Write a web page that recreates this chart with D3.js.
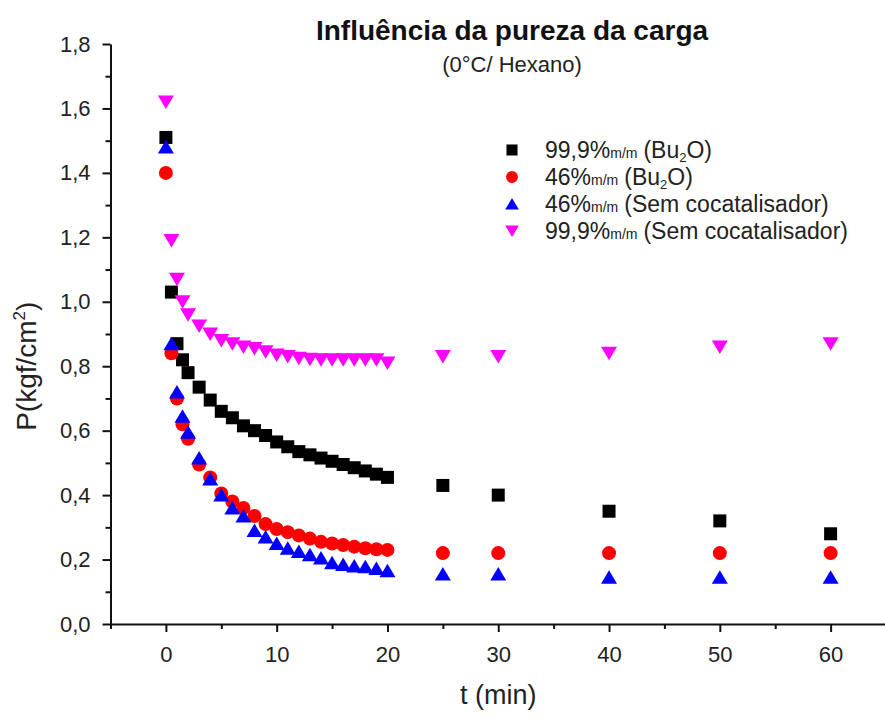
<!DOCTYPE html>
<html>
<head>
<meta charset="utf-8">
<script src="https://cdn.jsdelivr.net/npm/d3@7/dist/d3.min.js"></script>
<style>
  html, body { margin: 0; padding: 0; background: #fff; }
  svg { display: block; font-family: "Liberation Sans", Arial, sans-serif; }
</style>
</head>
<body>
<svg id="chart" width="885" height="718"></svg>
<script>
// ---- data ----
const times = [0, 0.5, 1, 1.5, 2, 3, 4, 5, 6, 7, 8, 9, 10, 11, 12, 13, 14, 15, 16, 17, 18, 19, 20, 25, 30, 40, 50, 60];
const pure_Bu2O   = [1.51, 1.03, 0.87, 0.82, 0.78, 0.735, 0.695, 0.66, 0.64, 0.615, 0.60, 0.585, 0.565, 0.55, 0.535, 0.525, 0.515, 0.505, 0.495, 0.485, 0.475, 0.465, 0.455, 0.43, 0.40, 0.35, 0.32, 0.28];
const p46_Bu2O    = [1.40, 0.84, 0.70, 0.62, 0.575, 0.495, 0.455, 0.405, 0.38, 0.36, 0.335, 0.31, 0.295, 0.285, 0.275, 0.265, 0.255, 0.25, 0.245, 0.24, 0.235, 0.232, 0.23, 0.22, 0.22, 0.22, 0.22, 0.22];
const p46_semCoc  = [1.48, 0.87, 0.72, 0.645, 0.595, 0.515, 0.45, 0.40, 0.36, 0.335, 0.29, 0.27, 0.25, 0.235, 0.225, 0.215, 0.205, 0.19, 0.185, 0.18, 0.178, 0.172, 0.165, 0.155, 0.155, 0.145, 0.145, 0.145];
const pure_semCoc = [1.62, 1.19, 1.07, 1.00, 0.96, 0.925, 0.90, 0.88, 0.87, 0.86, 0.855, 0.845, 0.835, 0.83, 0.825, 0.822, 0.82, 0.82, 0.82, 0.82, 0.82, 0.82, 0.81, 0.83, 0.83, 0.84, 0.86, 0.87];

const seriesNames = ["99,9%", "46%", "46%", "99,9%"];
const seriesSuffix = ["(Bu2O)", "(Bu2O)", "(Sem cocatalisador)", "(Sem cocatalisador)"];
const seriesValues = [pure_Bu2O, p46_Bu2O, p46_semCoc, pure_semCoc];
const seriesShapes = ["square", "circle", "triUp", "triDown"];
const seriesColors = ["#000000", "#ff0000", "#0000ff", "#ff00ff"];

const xMajor = [0, 10, 20, 30, 40, 50, 60];
const xMinor = [-5, 5, 15, 25, 35, 45, 55, 65];
const yMajor = [0, 0.2, 0.4, 0.6, 0.8, 1.0, 1.2, 1.4, 1.6, 1.8];
const yMinor = [0.1, 0.3, 0.5, 0.7, 0.9, 1.1, 1.3, 1.5, 1.7];

const title = "Influência da pureza da carga";
const subtitle = "(0°C/ Hexano)";
const xTitle = "t (min)";

// ---- layout ----
const svg = d3.select("#chart");
const x = d3.scaleLinear().domain([-5, 65]).range([110.5, 886]);
const y = d3.scaleLinear().domain([0, 1.8]).range([624, 44]);
const fmt = d => d3.format(".1f")(d).replace(".", ",");

// axes
const yAxis = svg.append("g").attr("transform", `translate(${x(-5)},0)`)
  .call(d3.axisLeft(y).tickValues(yMajor).tickFormat(fmt).tickSize(8).tickSizeOuter(0).tickPadding(12));
svg.append("g").attr("transform", `translate(${x(-5)},0)`)
  .call(d3.axisLeft(y).tickValues(yMinor).tickFormat("").tickSize(5).tickSizeOuter(0))
  .call(g => g.select(".domain").remove());
const xAxis = svg.append("g").attr("transform", `translate(0,${y(0)})`)
  .call(d3.axisBottom(x).tickValues(xMajor).tickSize(8).tickSizeOuter(0).tickPadding(14));
svg.append("g").attr("transform", `translate(0,${y(0)})`)
  .call(d3.axisBottom(x).tickValues(xMinor).tickFormat("").tickSize(5).tickSizeOuter(0))
  .call(g => g.select(".domain").remove());

svg.selectAll(".domain").attr("stroke", "#111").attr("stroke-width", 2);
svg.selectAll(".tick line").attr("stroke", "#111").attr("stroke-width", 2);
yAxis.selectAll(".tick text").attr("font-size", 22).attr("fill", "#222").attr("font-family", "Liberation Sans, Arial, sans-serif");
xAxis.selectAll(".tick text").attr("font-size", 22).attr("fill", "#222").attr("font-family", "Liberation Sans, Arial, sans-serif");

// axis titles
svg.append("text").attr("x", x(30)).attr("y", 704).attr("text-anchor", "middle")
  .attr("font-size", 27).attr("fill", "#222").text(xTitle);
const yt = svg.append("text").attr("transform", `translate(36,${y(0.8)}) rotate(-90)`)
  .attr("text-anchor", "middle").attr("font-size", 28).attr("fill", "#222");
yt.append("tspan").text("P(kgf/cm");
yt.append("tspan").attr("font-size", 17).attr("dy", -11).text("2");
yt.append("tspan").attr("dy", 11).text(")");

// title
svg.append("text").attr("x", 512).attr("y", 40).attr("text-anchor", "middle")
  .attr("font-size", 28).attr("font-weight", "bold").attr("fill", "#111").text(title);
svg.append("text").attr("x", 512).attr("y", 72).attr("text-anchor", "middle")
  .attr("font-size", 22).attr("fill", "#222").text(subtitle);

// marker paths
function markerPath(shape) {
  if (shape === "square") return "M-6.5,-6.5H6.5V6.5H-6.5Z";
  if (shape === "circle") return d3.symbol(d3.symbolCircle, Math.PI * 7 * 7)();
  if (shape === "triUp") return "M0,-7L8,6.5L-8,6.5Z";
  return "M0,7L8,-6.5L-8,-6.5Z";
}

// points
seriesValues.forEach((vals, i) => {
  svg.append("g").selectAll("path").data(times.map((t, j) => [t, vals[j]])).join("path")
    .attr("d", markerPath(seriesShapes[i]))
    .attr("transform", d => `translate(${x(d[0])},${y(d[1])})`)
    .attr("fill", seriesColors[i]);
});

// legend
const legY = [150, 177, 204, 231];
seriesValues.forEach((vals, i) => {
  const g = svg.append("g").attr("transform", `translate(512,${legY[i]})`);
  g.append("path").attr("d", markerPath(seriesShapes[i])).attr("transform", "scale(0.85)").attr("fill", seriesColors[i]);
  const t = g.append("text").attr("x", 33).attr("y", 8).attr("font-size", 23).attr("fill", "#222");
  t.append("tspan").text(seriesNames[i]);
  t.append("tspan").attr("font-size", 14).text("m/m");
  if (seriesSuffix[i] === "(Bu2O)") {
    t.append("tspan").attr("dx", 6).text("(Bu");
    t.append("tspan").attr("font-size", 13).attr("dy", 4).text("2");
    t.append("tspan").attr("dy", -4).text("O)");
  } else {
    t.append("tspan").attr("dx", 6).text(seriesSuffix[i]);
  }
});
</script>
</body>
</html>
